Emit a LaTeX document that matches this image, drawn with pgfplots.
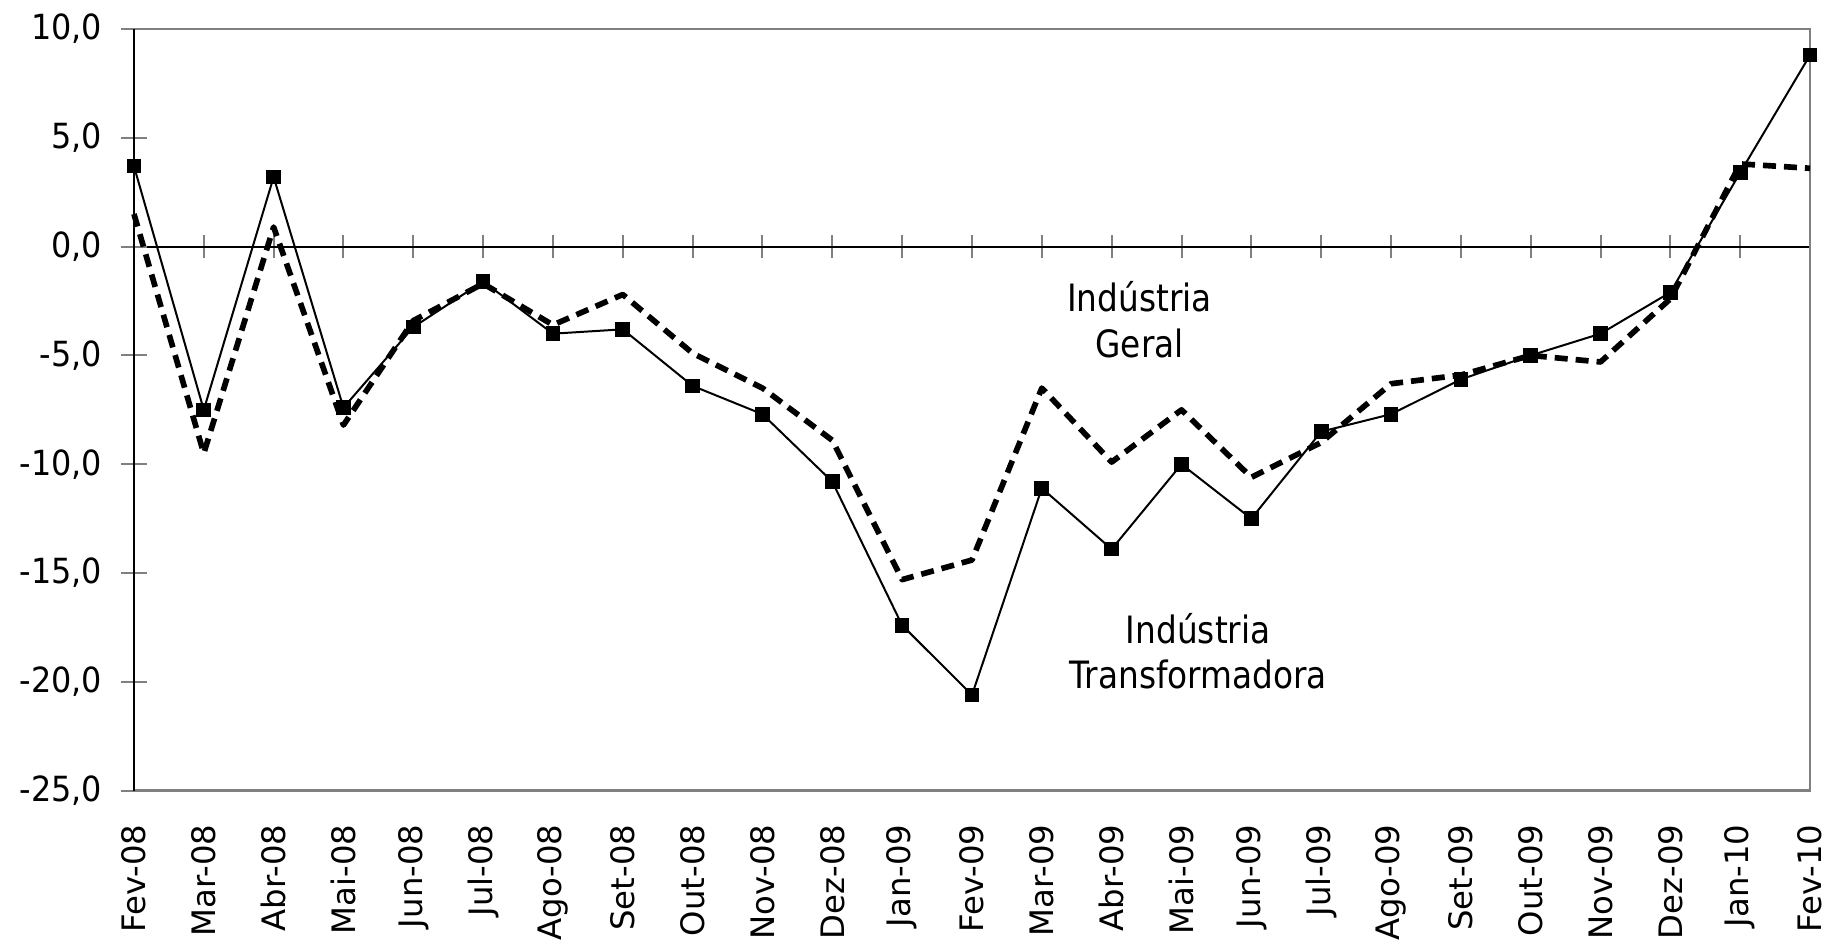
\documentclass[border=0pt]{standalone}
\usepackage{pgfplots}
\usepackage{pgfplotstable}
\pgfplotsset{compat=1.18}
\usepackage{fontspec}
\setmainfont{DejaVu Sans}
\newfontfamily\narrowfont[FakeStretch=0.87]{DejaVu Sans}
\newfontfamily\ylabfont[FakeStretch=0.92]{DejaVu Sans}

\pgfplotstableread{
i geral transf
0 1.5 3.7
1 -9.5 -7.5
2 0.9 3.2
3 -8.2 -7.4
4 -3.4 -3.7
5 -1.7 -1.6
6 -3.6 -4.0
7 -2.2 -3.8
8 -4.9 -6.4
9 -6.5 -7.7
10 -8.9 -10.8
11 -15.3 -17.4
12 -14.4 -20.6
13 -6.5 -11.1
14 -9.9 -13.9
15 -7.5 -10.0
16 -10.6 -12.5
17 -9.0 -8.5
18 -6.3 -7.7
19 -5.9 -6.1
20 -5.0 -5.0
21 -5.3 -4.0
22 -2.4 -2.1
23 3.8 3.4
24 3.6 8.8
}\data

\begin{document}
\begin{tikzpicture}
% zero line with crossing ticks
\begin{axis}[
  scale only axis, width=503pt, height=228.6pt,
  at={(0,0)}, anchor=south west,
  xmin=0, xmax=24, ymin=-25, ymax=10,
  axis x line=middle, axis y line=none,
  x axis line style={-, black, line width=0.6pt},
  xtick={0,...,24}, xticklabels={}, ytick=\empty,
  x tick style={draw=gray, line width=0.6pt},
  tick align=center, major tick length=7pt,
]
\end{axis}
\begin{axis}[
  scale only axis, width=503pt, height=228.6pt,
  at={(0,0)}, anchor=south west,
  xmin=0, xmax=24, ymin=-25, ymax=10,
  clip=false,
  axis line style={draw=gray, line width=0.8pt},
  xtick={0,...,24},
  xticklabels={Fev-08,Mar-08,Abr-08,Mai-08,Jun-08,Jul-08,Ago-08,Set-08,Out-08,Nov-08,Dez-08,Jan-09,Fev-09,Mar-09,Abr-09,Mai-09,Jun-09,Jul-09,Ago-09,Set-09,Out-09,Nov-09,Dez-09,Jan-10,Fev-10},
  x tick style={draw=none},
  xticklabel style={rotate=90, anchor=east, font=\fontsize{9.7}{11}\selectfont, inner sep=0pt, xshift=-6pt},
  ytick pos=left,
  ytick={-25,-20,-15,-10,-5,0,5,10},
  yticklabels={{-25,0},{-20,0},{-15,0},{-10,0},{-5,0},{0,0},{5,0},{10,0}},
  yticklabel style={font=\ylabfont\fontsize{10.4}{12}\selectfont, xshift=-2pt},
  y tick style={draw=gray, line width=0.6pt},
  tick align=center, major tick length=8pt,
]
\draw[black, line width=0.6pt] (rel axis cs:0,0) -- (rel axis cs:0,1);
\addplot[black, line width=1.7pt, dash pattern=on 3.9pt off 2.4pt, line join=round, mark=none] table[x=i, y=geral] {\data};
\addplot[black, line width=0.6pt, mark=square*, mark size=1.9pt, mark options={solid}] table[x=i, y=transf] {\data};
\node[font=\narrowfont\fontsize{11.3}{13.6}\selectfont, align=center] at (axis cs:14.4,-3.36) {Indústria\\Geral};
\node[font=\narrowfont\fontsize{11.3}{13.6}\selectfont, align=center] at (axis cs:15.24,-18.6) {Indústria\\Transformadora};
\end{axis}
\pgfresetboundingbox
\path (-40.2pt,-46.5pt) rectangle (509.9pt,237.3pt);
\end{tikzpicture}
\end{document}
